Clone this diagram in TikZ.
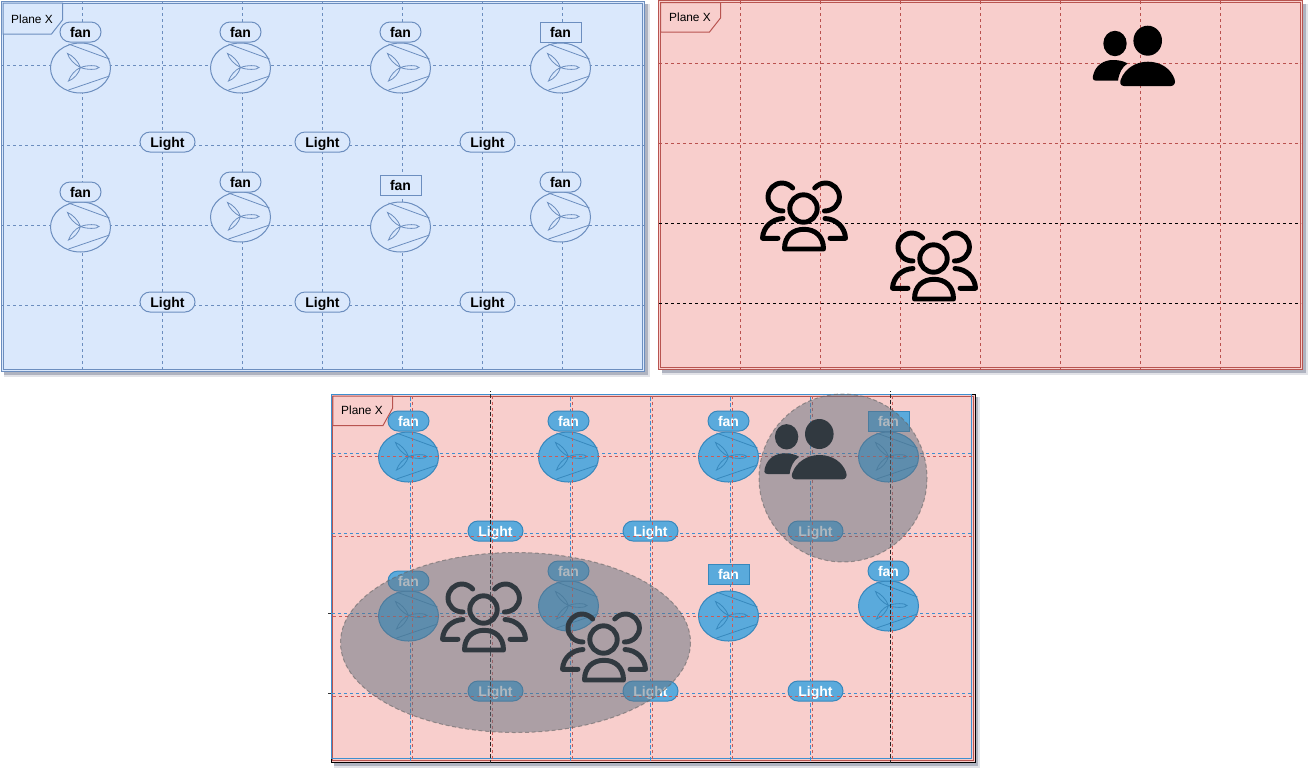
\documentclass[tikz,border=0pt]{standalone}
\usepackage{fontspec}
\setmainfont{Liberation Sans}
\usetikzlibrary{shapes.geometric}
\definecolor{blueline}{HTML}{6C8EBF}
\definecolor{bluefill}{HTML}{DAE8FC}
\definecolor{redline}{HTML}{B85450}
\definecolor{redfill}{HTML}{F8CECC}
\definecolor{cfill}{HTML}{5AAADC}
\definecolor{cline}{HTML}{3788BD}
\definecolor{cgrid}{HTML}{3F8FCF}
\definecolor{rgrid}{HTML}{CF5A56}
\definecolor{overlay}{HTML}{627280}
\definecolor{shadowc}{HTML}{8E93A6}
\def\pxu{0.75pt}
\tikzset{
  x=0.75pt,y=-0.75pt,
  thin line/.style={line width=0.75pt},
  griddash/.style={line width=0.75pt,dash pattern=on 2.6pt off 1.9pt},
  griddashb/.style={line width=0.75pt,dash pattern=on 2.6pt off 1.9pt,dash phase=2pt},
  themeA/.style={draw=blueline,fill=bluefill,text=black},
  themeC/.style={draw=cline,fill=cfill,text=white},
  bladethemeA/.style={draw=blueline,line width=0.6pt},
  bladethemeC/.style={draw=cline,line width=0.6pt},
  labelfont/.style={font=\bfseries\fontsize{10.5pt}{12pt}\selectfont,text height=8.5pt,text depth=0.8pt},
  pill/.style={labelfont,rounded corners=7.5pt,minimum width=41*\pxu,minimum height=20*\pxu,inner sep=0pt,line width=0.75pt},
  box/.style={labelfont,minimum width=41*\pxu,minimum height=20*\pxu,inner sep=0pt,line width=0.75pt},
  lightpill/.style={pill,minimum width=55*\pxu},
  fanbody/.style={shape=ellipse,minimum width=60*\pxu,minimum height=50*\pxu,inner sep=0pt,line width=0.75pt},
  tabtext/.style={font=\fontsize{8.9pt}{10pt}\selectfont,text=black,inner sep=0pt},
  solidicon/.style={fill=black,draw=none},
  lineicon/.style={draw=black,line width=3.7pt,line cap=round,line join=round},
  veil/.style={fill=overlay,fill opacity=0.5,draw=black!60,draw opacity=0.6,line width=0.75pt,dash pattern=on 3pt off 2pt}
}
% name, x, y, label y, label style, theme
\newcommand{\fanicon}[6]{%
  \node[fanbody,#6] (#1b) at (#2,#3) {};
  \begin{scope}[shift={(#2,#3)}]
    \draw[blade#6] (-12,-24) -- (29,-9);
    \draw[blade#6] (-12,22) -- (29,8);
    \draw[blade#6] (0,-0.5) .. controls (6,-3) and (17,-3) .. (18.5,-0.5) .. controls (17,2) and (6,2) .. (0,-0.5);
    \draw[blade#6] (0,-0.5) .. controls (-2.2,-6.7) and (-8.2,-12.7) .. (-13,-14.5) .. controls (-11.8,-9.3) and (-5.8,-3.3) .. (0,-0.5);
    \draw[blade#6] (0,-0.5) .. controls (-1.6,5.2) and (-6.6,11.2) .. (-12,13) .. controls (-10.4,7.8) and (-5.4,1.8) .. (0,-0.5);
  \end{scope}
  \node[#5,#6] (#1l) at (#2,#4) {fan};
}
\newcommand{\lightnode}[4]{\node[lightpill,#4] (#1) at (#2,#3) {Light};}
\newcommand{\peoplesolid}[2]{%
  \begin{scope}[shift={(#1,#2)}]
    \fill[solidicon] (1115,43.5) ellipse [x radius=11.7,y radius=12.7];
    \fill[solidicon] (1147.7,40.7) ellipse [x radius=14.3,y radius=15];
    \fill[solidicon] (1096,80.7) .. controls (1092,80.7) and (1092.5,77) .. (1093.5,74) .. controls (1096,65) and (1104,60) .. (1113,60) .. controls (1118,60) and (1124,61) .. (1127.5,63.5) .. controls (1122,67) and (1119,73) .. (1118,80.7) -- cycle;
    \fill[solidicon] (1124,86) .. controls (1120,86) and (1119.5,82) .. (1121,79) .. controls (1125,69) and (1135,61.7) .. (1148,61.7) .. controls (1161,61.7) and (1171,69) .. (1174.5,79) .. controls (1176,83) and (1174,86) .. (1171,86) -- cycle;
  \end{scope}}
\newcommand{\peopleline}[2]{%
  \begin{scope}[shift={(#1,#2)}]
    \draw[lineicon] (803.5,208.5) circle [radius=13.7];
    \draw[lineicon] (784.5,249) .. controls (784.5,236) and (793,229.3) .. (804,229.3) .. controls (815,229.3) and (823.5,236) .. (823.5,249) -- cycle;
    \draw[lineicon] (792.7,188) .. controls (790,185) and (786,183) .. (782,183) .. controls (774.3,183) and (768,189.3) .. (768,197) .. controls (768,204.7) and (774.3,211) .. (783,211);
    \draw[lineicon] (814.7,188) .. controls (817.4,185) and (821.4,183) .. (825.4,183) .. controls (833.1,183) and (839.4,189.3) .. (839.4,197) .. controls (839.4,204.7) and (833.1,211) .. (824.4,211);
    \draw[lineicon] (783,218.5) .. controls (772,219) and (763,227) .. (762.5,238.3) -- (778,238.3);
    \draw[lineicon] (825,218.5) .. controls (836,219) and (845,227) .. (845.5,238.3) -- (830,238.3);
  \end{scope}}
\newcommand{\softshadow}[4]{%
  \fill[shadowc,opacity=0.25] (#1+3,#2+3) rectangle (#3+5,#4+5);
  \fill[shadowc,opacity=0.6] (#1+3,#2+3) rectangle (#3+3,#4+3);
}
\begin{document}
\begin{tikzpicture}
\useasboundingbox (0,0) rectangle (1316,776);
\fill[white] (0,0) rectangle (1316,776);

% ---------- panel A
\softshadow{1}{1}{644.5}{371.5}
\draw[thin line,draw=blueline,fill=bluefill] (1,1) rectangle (644.5,371.5);
\draw[thin line,draw=blueline] (3,3) rectangle (642.5,369.5);
\foreach \vx in {82,162,242,322,402,482,562} \draw[griddash,blueline] (\vx,1) -- (\vx,371);
\foreach \hy in {65,145,225,305} \draw[griddash,blueline] (1,\hy) -- (644,\hy);
\draw[thin line,draw=blueline,fill=bluefill] (3,3) -- (62.5,3) -- (62.5,20) -- (51.5,34) -- (3,34) -- cycle;
\node[tabtext] (tabA) at (32,19) {Plane X};
\fanicon{a1}{80.5}{68}{32}{pill}{themeA}
\fanicon{a2}{240.5}{68}{32}{pill}{themeA}
\fanicon{a3}{400.5}{68}{32}{pill}{themeA}
\fanicon{a4}{560.5}{68}{32}{box}{themeA}
\fanicon{a5}{80.5}{227}{192}{pill}{themeA}
\fanicon{a6}{240.5}{217}{182}{pill}{themeA}
\fanicon{a7}{400.5}{227}{185}{box}{themeA}
\fanicon{a8}{560.5}{217}{182}{pill}{themeA}
\lightnode{al1}{167.5}{142}{themeA}
\lightnode{al2}{322.5}{142}{themeA}
\lightnode{al3}{487.5}{142}{themeA}
\lightnode{al4}{167.5}{302}{themeA}
\lightnode{al5}{322.5}{302}{themeA}
\lightnode{al6}{487.5}{302}{themeA}

% ---------- panel B
\softshadow{658.5}{0.5}{1302.5}{369.5}
\draw[thin line,draw=redline,fill=redfill] (658.5,0.5) rectangle (1302.5,369.5);
\draw[thin line,draw=redline] (660.5,2.5) rectangle (1300.5,367.5);
\foreach \vx in {740,820,900,980,1060,1140,1220} \draw[griddash,rgrid!90!black] (\vx,1) -- (\vx,369);
\foreach \hy in {63,143} \draw[griddash,rgrid!90!black] (659,\hy) -- (1301,\hy);
\foreach \hy in {223,303} \draw[griddash,black] (659,\hy) -- (1301,\hy);
\draw[thin line,draw=redline,fill=redfill] (660.5,2.5) -- (720.5,2.5) -- (720.5,18) -- (709.5,32) -- (660.5,32) -- cycle;
\node[tabtext] (tabB) at (690,17) {Plane X};
\peoplesolid{0}{0}
\peopleline{0}{0}
\peopleline{130}{50}

% ---------- panel C
\softshadow{331}{394}{975}{762.5}
\draw[thin line,draw=black,fill=redfill] (331,394) rectangle (975,762.5);
\draw[thin line,draw=redline] (332.8,396) rectangle (973,760);
\draw[thin line,draw=cgrid] (331.5,394.5) -- (971,394.5) -- (971,758) -- (331.5,758) -- cycle;
\foreach \vx in {410.5,570.5,650.5,730.5,810.5} \draw[griddashb,cgrid] (\vx,394) -- (\vx,762);
\foreach \hy in {453,533} \draw[griddash,cgrid] (332,\hy) -- (971,\hy);
\foreach \hy in {613,693} {
  \draw[griddash,black!80] (328,\hy) -- (335,\hy);
  \draw[griddash,cgrid] (332,\hy) -- (971,\hy);
}
\fanicon{c1}{408.5}{457}{421}{pill}{themeC}
\fanicon{c2}{568.5}{457}{421}{pill}{themeC}
\fanicon{c3}{728.5}{457}{421}{pill}{themeC}
\fanicon{c4}{888.5}{457}{421}{box}{themeC}
\fanicon{c5}{408.5}{616}{581}{pill}{themeC}
\fanicon{c6}{568.5}{606}{571}{pill}{themeC}
\fanicon{c7}{728.5}{616}{574}{box}{themeC}
\fanicon{c8}{888.5}{606}{571}{pill}{themeC}
\lightnode{cl1}{495.5}{531}{themeC}
\lightnode{cl2}{650.5}{531}{themeC}
\lightnode{cl3}{815.5}{531}{themeC}
\lightnode{cl4}{495.5}{691}{themeC}
\lightnode{cl5}{650.5}{691}{themeC}
\lightnode{cl6}{815.5}{691}{themeC}
\foreach \vx in {490.5,890.5} \draw[griddashb,black!85] (\vx,391) -- (\vx,763);
\foreach \vx in {412.5,492.5,572.5,652.5,732.5,812.5,892.5} \draw[griddash,rgrid] (\vx,396) -- (\vx,760);
\foreach \hy in {456,536,616,696} \draw[griddash,rgrid] (333,\hy) -- (972,\hy);
\draw[thin line,draw=redline,fill=redfill] (332.8,396) -- (392.7,396) -- (392.7,408) -- (383,425.5) -- (332.8,425.5) -- cycle;
\node[tabtext] (tabC) at (362,410) {Plane X};
\peoplesolid{-328.4}{393.3}
\peopleline{-320}{401}
\peopleline{-200}{431}
\path[veil] (515.5,642.5) ellipse [x radius=175,y radius=90];
\path[veil] (843,478) circle [radius=84];
\end{tikzpicture}
\end{document}
